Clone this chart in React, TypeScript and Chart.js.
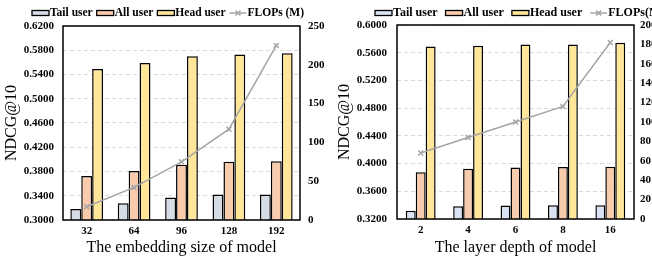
import React, { useEffect, useRef } from "react";
import { Chart, registerables } from "chart.js";

Chart.register(...registerables);

const FONT = "'Liberation Serif', 'Times New Roman', serif";

// Left chart: embedding size
const embedCategories = ["32", "64", "96", "128", "192"];
const embedTail = [0.318, 0.3275, 0.337, 0.342, 0.342];
const embedAll = [0.3725, 0.381, 0.391, 0.396, 0.397];
const embedHead = [0.549, 0.559, 0.57, 0.573, 0.575];
const embedFlops = [17, 42, 75, 117, 225];

// Right chart: layer depth
const depthCategories = ["2", "4", "6", "8", "16"];
const depthTail = [0.332, 0.3385, 0.3395, 0.34, 0.34];
const depthAll = [0.3875, 0.3925, 0.3945, 0.395, 0.3955];
const depthHead = [0.569, 0.570, 0.572, 0.572, 0.5745];
const depthFlops = [68, 84, 100, 116, 182];

const seriesNames = ["Tail user", "All user", "Head user"];
const embedLineName = "FLOPs (M)";
const depthLineName = "FLOPs(M)";

const framePlugin = {
  id: "frame",
  afterDatasetsDraw(chart: any) {
    const { ctx, chartArea: a } = chart;
    ctx.save();
    ctx.strokeStyle = "#000";
    ctx.lineWidth = 1.5;
    ctx.strokeRect(a.left, a.top, a.right - a.left, a.bottom - a.top);
    ctx.restore();
  },
};

const legendPlugin = {
  id: "customLegend",
  afterDraw(chart: any, _args: any, opts: any) {
    const ctx = chart.ctx;
    let x = opts.x;
    const y = opts.y;
    ctx.save();
    ctx.font = `bold ${opts.fontSize}px ${FONT}`;
    ctx.textBaseline = "middle";
    ctx.textAlign = "left";
    chart.data.datasets.forEach((ds: any) => {
      if (ds.type === "line") {
        ctx.strokeStyle = ds.borderColor;
        ctx.lineWidth = 1.5;
        ctx.beginPath();
        ctx.moveTo(x, y);
        ctx.lineTo(x + 17, y);
        ctx.stroke();
        const cx = x + 8.5;
        const r = 2.5;
        ctx.beginPath();
        ctx.moveTo(cx - r, y - r);
        ctx.lineTo(cx + r, y + r);
        ctx.moveTo(cx - r, y + r);
        ctx.lineTo(cx + r, y - r);
        ctx.stroke();
      } else {
        ctx.fillStyle = ds.backgroundColor;
        ctx.fillRect(x, y - 2.5, 17, 5);
        ctx.strokeStyle = "#000";
        ctx.lineWidth = 1.3;
        ctx.strokeRect(x, y - 2.5, 17, 5);
      }
      x += 18;
      ctx.fillStyle = "#000";
      ctx.fillText(ds.label, x, y);
      x += ctx.measureText(ds.label).width + opts.gap;
    });
    ctx.restore();
  },
};

type Params = {
  categories: string[];
  tail: number[];
  all: number[];
  head: number[];
  flops: number[];
  lineName: string;
  tailColor: string;
  yMin: number;
  yMax: number;
  y1Max: number;
  y1Step: number;
  xTitle: string;
  catPct: number;
  leftWidth: number;
  rightWidth: number;
  topPad: number;
  xHeight: number;
  yTitlePad: number;
  yTickPad: number;
  y1TickPad: number;
  legendX: number;
  legendGap: number;
  legendFont: number;
};

function makeConfig(p: Params): any {
  const barCommon = {
    type: "bar",
    yAxisID: "y",
    borderColor: "#000",
    borderWidth: 1.5,
    barPercentage: 1,
    categoryPercentage: p.catPct,
    order: 1,
  };
  return {
    type: "bar",
    data: {
      labels: p.categories,
      datasets: [
        { ...barCommon, label: seriesNames[0], data: p.tail, backgroundColor: p.tailColor },
        { ...barCommon, label: seriesNames[1], data: p.all, backgroundColor: "#F8CBAD" },
        { ...barCommon, label: seriesNames[2], data: p.head, backgroundColor: "#FFE699" },
        {
          type: "line",
          label: p.lineName,
          data: p.flops,
          yAxisID: "y1",
          borderColor: "#A5A5A5",
          backgroundColor: "#A5A5A5",
          borderWidth: 1.5,
          pointStyle: "crossRot",
          pointRadius: 3.5,
          pointBorderColor: "#A5A5A5",
          pointBorderWidth: 1.5,
          tension: 0,
          order: 0,
        },
      ],
    },
    options: {
      responsive: false,
      animation: false,
      devicePixelRatio: 1,
      events: [],
      layout: { padding: { top: p.topPad, left: 0, right: 0, bottom: 0 } },
      plugins: {
        legend: { display: false },
        tooltip: { enabled: false },
        customLegend: { x: p.legendX, y: 13, gap: p.legendGap, fontSize: p.legendFont },
      },
      scales: {
        x: {
          type: "category",
          grid: { display: false, drawTicks: false },
          border: { display: false },
          ticks: { color: "#000", font: { family: FONT, size: 11, weight: "bold" }, padding: 5, maxRotation: 0 },
          title: {
            display: true,
            text: p.xTitle,
            color: "#000",
            font: { family: FONT, size: 16, lineHeight: 1.2 },
            padding: { top: 0, bottom: 2 },
          },
          afterFit: (s: any) => {
            s.height = p.xHeight;
          },
        },
        y: {
          type: "linear",
          position: "left",
          min: p.yMin,
          max: p.yMax,
          grid: { color: "#D9D9D9", lineWidth: 1, drawTicks: false },
          border: { display: false, dash: [4, 3] },
          ticks: {
            stepSize: 0.04,
            color: "#000",
            padding: p.yTickPad,
            font: { family: FONT, size: 11, weight: "bold" },
            callback: (v: any) => Number(v).toFixed(4),
          },
          title: {
            display: true,
            text: "NDCG@10",
            color: "#000",
            font: { family: FONT, size: 16, lineHeight: 1.2 },
            padding: { top: p.yTitlePad, bottom: 0 },
          },
          afterFit: (s: any) => {
            s.width = p.leftWidth;
          },
        },
        y1: {
          type: "linear",
          position: "right",
          min: 0,
          max: p.y1Max,
          grid: { display: false, drawTicks: false },
          border: { display: false },
          ticks: {
            stepSize: p.y1Step,
            color: "#000",
            padding: p.y1TickPad,
            font: { family: FONT, size: 11, weight: "bold" },
          },
          afterFit: (s: any) => {
            s.width = p.rightWidth;
          },
        },
      },
    },
    plugins: [framePlugin, legendPlugin],
  };
}

export default function App() {
  const leftRef = useRef<HTMLCanvasElement>(null);
  const rightRef = useRef<HTMLCanvasElement>(null);

  useEffect(() => {
    const left = new Chart(
      leftRef.current as HTMLCanvasElement,
      makeConfig({
        categories: embedCategories,
        tail: embedTail,
        all: embedAll,
        head: embedHead,
        flops: embedFlops,
        lineName: embedLineName,
        tailColor: "#D6DCE5",
        yMin: 0.3,
        yMax: 0.62,
        y1Max: 250,
        y1Step: 50,
        xTitle: "The embedding size of model",
        catPct: 0.69,
        leftWidth: 63,
        rightWidth: 26,
        topPad: 26,
        xHeight: 39,
        yTitlePad: 2,
        yTickPad: 9,
        y1TickPad: 8,
        legendX: 32,
        legendGap: 4,
        legendFont: 11.5,
      })
    );
    const right = new Chart(
      rightRef.current as HTMLCanvasElement,
      makeConfig({
        categories: depthCategories,
        tail: depthTail,
        all: depthAll,
        head: depthHead,
        flops: depthFlops,
        lineName: depthLineName,
        tailColor: "#DAE3F3",
        yMin: 0.32,
        yMax: 0.6,
        y1Max: 200,
        y1Step: 20,
        xTitle: "The layer depth of model",
        catPct: 0.63,
        leftWidth: 71,
        rightWidth: 37,
        topPad: 25,
        xHeight: 40,
        yTitlePad: 9,
        yTickPad: 10,
        y1TickPad: 6,
        legendX: 49,
        legendGap: 8,
        legendFont: 12,
      })
    );
    return () => {
      left.destroy();
      right.destroy();
    };
  }, []);

  return (
    <div
      style={{
        position: "fixed",
        left: 0,
        top: 0,
        width: 652,
        height: 259,
        overflow: "hidden",
        background: "#fff",
      }}
    >
      <canvas ref={leftRef} width={326} height={259} style={{ position: "absolute", left: 0, top: 0 }} />
      <canvas ref={rightRef} width={345} height={259} style={{ position: "absolute", left: 326, top: 0 }} />
    </div>
  );
}
